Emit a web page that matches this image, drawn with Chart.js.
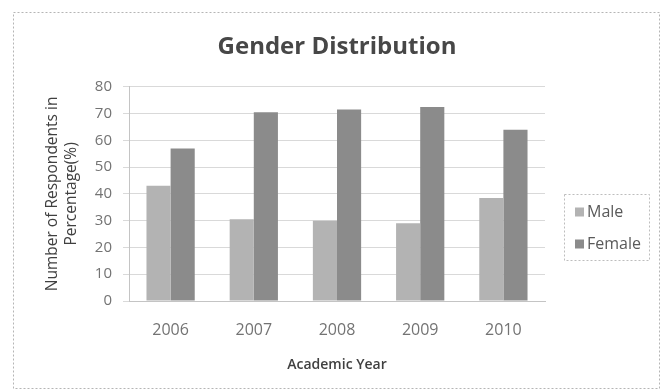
<!DOCTYPE html>
<html>
<head>
<meta charset="utf-8">
<script src="https://cdn.jsdelivr.net/npm/chart.js@4.4.1/dist/chart.umd.min.js"></script>
<style>
  html, body { margin: 0; padding: 0; background: #ffffff; }
  #wrap { width: 662px; height: 392px; position: relative; }
  canvas { display: block; }
</style>
</head>
<body>
<div id="wrap"><canvas id="chart" width="662" height="392"></canvas></div>
<script>
// Academic years on the category axis
const years = ['2006', '2007', '2008', '2009', '2010'];
// Share of respondents (%) per year
const maleValues = [43, 30.5, 30, 29, 38.5];
const femaleValues = [57, 70.5, 71.5, 72.5, 64];
const seriesNames = ['Male', 'Female'];
const seriesColors = ['#b3b3b3', '#8b8b8b'];
// Value axis range and step
const yMin = 0;
const yMax = 80;
const yStep = 10;

const FONT = '"Open Sans", "DejaVu Sans", sans-serif';

// Page frame and the boxed legend on the right
const framePlugin = {
  id: 'framePlugin',
  beforeDraw(chart) {
    const ctx = chart.ctx;
    ctx.save();
    ctx.fillStyle = '#ffffff';
    ctx.fillRect(0, 0, chart.width, chart.height);
    ctx.restore();
  },
  afterDraw(chart) {
    const ctx = chart.ctx;
    ctx.save();
    ctx.strokeStyle = '#b5b5b5';
    ctx.lineWidth = 1;
    ctx.setLineDash([2, 2]);
    ctx.strokeRect(13.5, 12.5, 646, 376);

    // legend box
    const lx = 564.5, ly = 194.5, lw = 85, lh = 66;
    ctx.strokeStyle = '#bdbdbd';
    ctx.strokeRect(lx, ly, lw, lh);
    ctx.setLineDash([]);

    const rowY = [212, 244];
    chart.data.datasets.forEach((ds, i) => {
      ctx.fillStyle = ds.backgroundColor;
      ctx.fillRect(575, rowY[i] - 4.5, 9, 9);
      ctx.fillStyle = '#5a5a5a';
      ctx.font = '16px ' + FONT;
      ctx.textBaseline = 'middle';
      ctx.textAlign = 'left';
      ctx.fillText(ds.label, 587, rowY[i]);
    });
    ctx.restore();
  }
};

new Chart(document.getElementById('chart'), {
  type: 'bar',
  data: {
    labels: years,
    datasets: [
      { label: seriesNames[0], data: maleValues, backgroundColor: seriesColors[0] },
      { label: seriesNames[1], data: femaleValues, backgroundColor: seriesColors[1] }
    ]
  },
  options: {
    responsive: false,
    animation: false,
    devicePixelRatio: 1,
    layout: { padding: { top: 0, left: 0, right: 117, bottom: 18 } },
    datasets: { bar: { categoryPercentage: 0.58, barPercentage: 1 } },
    plugins: {
      legend: { display: false },
      tooltip: { enabled: false },
      title: {
        display: true,
        text: 'Gender Distribution',
        fullSize: false,
        color: '#474747',
        font: { family: FONT, size: 24, weight: 'bold', lineHeight: 1.2 },
        padding: { top: 33, bottom: 25 }
      }
    },
    scales: {
      x: {
        grid: { display: false, drawTicks: false },
        border: { display: true, color: '#c4c4c4' },
        ticks: { color: '#737373', font: { family: FONT, size: 16 }, padding: 20 },
        title: {
          display: true,
          text: 'Academic Year',
          color: '#404040',
          font: { family: FONT, size: 14, weight: '600', lineHeight: 1.25 },
          padding: { top: 0, bottom: 0 }
        },
        afterFit(scale) { scale.height = 73; }
      },
      y: {
        min: yMin,
        max: yMax,
        grid: { color: '#d9d9d9', tickLength: 6, drawTicks: true },
        border: { display: true, color: '#c4c4c4' },
        ticks: { stepSize: yStep, color: '#737373', font: { family: FONT, size: 15 }, padding: 11 },
        title: {
          display: true,
          text: ['Number of Respondents in', 'Percentage(%)'],
          color: '#404040',
          font: { family: FONT, size: 15.5, lineHeight: 1.22 },
          padding: { top: 43.5, bottom: 0 }
        },
        afterFit(scale) { scale.width = 129; }
      }
    }
  },
  plugins: [framePlugin]
});
</script>
</body>
</html>
